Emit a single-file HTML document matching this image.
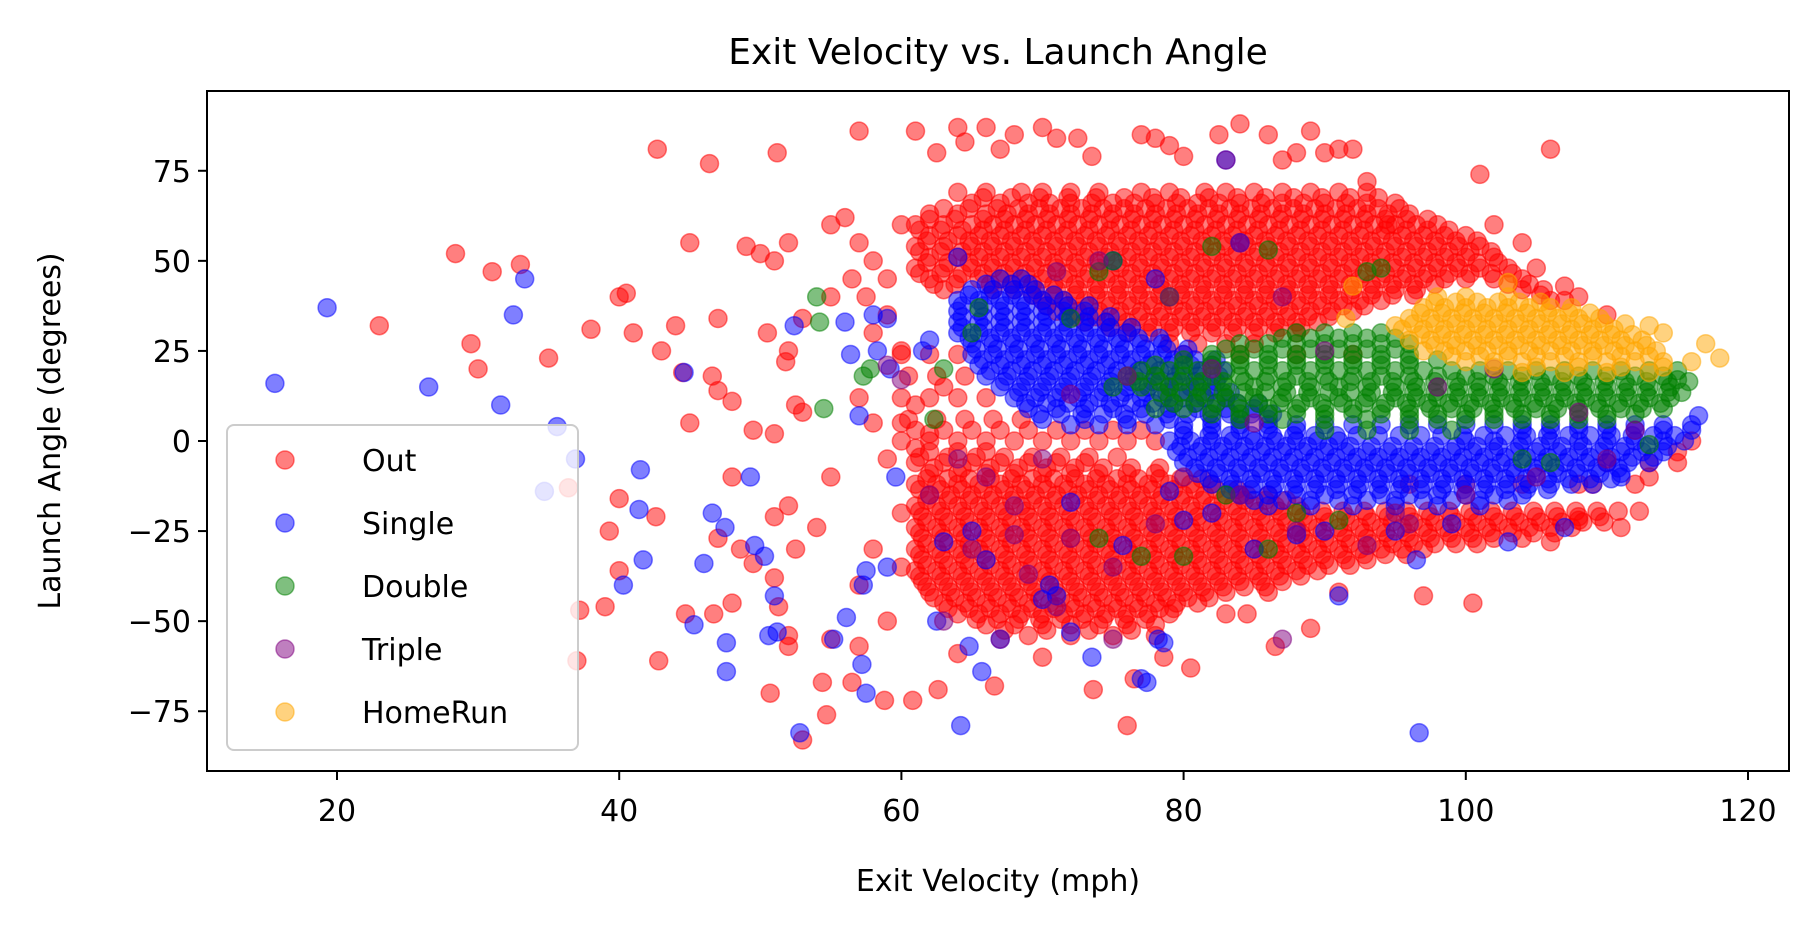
<!DOCTYPE html>
<html><head><meta charset="utf-8">
<style>
html,body{margin:0;padding:0;background:#fff;}
svg{display:block;font-family:"DejaVu Sans","Liberation Sans",sans-serif;}
</style></head>
<body>
<svg id="chart" width="1820" height="932" viewBox="0 0 1820 932" xmlns="http://www.w3.org/2000/svg">
<rect x="0" y="0" width="1820" height="932" fill="#fff"/>
<text x="998" y="64" text-anchor="middle" font-size="36" fill="#000">Exit Velocity vs. Launch Angle</text>
<g id="marks"></g>
<g id="axes"></g>
<text x="998" y="891" text-anchor="middle" font-size="30" fill="#000">Exit Velocity (mph)</text>
<text x="0" y="0" transform="translate(60,431) rotate(-90)" text-anchor="middle" font-size="30" fill="#000">Launch Angle (degrees)</text>
<g id="legend"></g>
</svg>
<script>
const categories = ["Out","Single","Double","Triple","HomeRun"];
const colors = ["#ff0000","#0000ff","#008000","#800080","#ffa500"];
const xTicks = [20,40,60,80,100,120];
const yTicks = [-75,-50,-25,0,25,50,75];

// Dense rows: [launchAngle, [exitVelocities...]]
const outRows = [
[69,[64,66,68.5,70,72,74,77,79,81.5,83,85,87,89,91,93]],
[67.5,[65.8,67.8,69.8,71.8,73.8,75.8,77.8,79.8,81.8,83.8,85.8,87.8,89.8,91.8,93.8]],
[66,[65,67,69,70.5,72,73.5,75,76.5,78,79.5,81,82.5,84,85.5,87,88.5,90,91.5,93,95]],
[64.5,[63,64.8,66.8,68.3,69.8,71.3,72.8,74.3,75.8,77.3,78.8,80.3,81.8,83.3,84.8,86.3,87.8,89.3,90.8,92.3,93.8,95.3]],
[63,[62,64,66,67.5,69,70.5,72,73.5,75,76.5,78,79.5,81,82.5,84,85.5,87,88.5,90,91.5,93,94.5,96]],
[61.5,[62,63.8,65.8,67.3,68.8,70.3,71.8,73.3,74.8,76.3,77.8,79.3,80.8,82.3,83.8,85.3,86.8,88.3,89.8,91.3,92.8,94.3,95.8,97.3]],
[60,[61,63,65,66.5,68,69.5,71,72.5,74,75.5,77,78.5,80,81.5,83,84.5,86,87.5,89,90.5,92,93.5,95,96.5,98]],
[58.5,[61.3,62.8,64.3,65.8,67.3,68.8,70.3,71.8,73.3,74.8,76.3,77.8,79.3,80.8,82.3,83.8,85.3,86.8,88.3,89.8,91.3,92.8,94.3,95.8,97.3,98.8]],
[57,[62,64,65.5,67,68.5,70,71.5,73,74.5,76,77.5,79,80.5,82,83.5,85,86.5,88,89.5,91,92.5,94,95.5,97,98.5,100]],
[55.5,[61.8,63.3,64.8,66.3,67.8,69.3,70.8,72.3,73.8,75.3,76.8,78.3,79.8,81.3,82.8,84.3,85.8,87.3,88.8,90.3,91.8,93.3,94.8,96.3,97.8,99.3,100.8]],
[54,[61,63,65,66.5,68,69.5,71,72.5,74,75.5,77,78.5,80,81.5,83,84.5,86,87.5,89,90.5,92,93.5,95,96.5,98,99.5,101]],
[52.5,[61.3,62.8,64.3,65.8,67.3,68.8,70.3,71.8,73.3,74.8,76.3,77.8,79.3,80.8,82.3,83.8,85.3,86.8,88.3,89.8,91.3,92.8,94.3,95.8,97.3,98.8,100.3,101.8]],
[51,[62,64,65.5,67,68.5,70,71.5,73,74.5,76,77.5,79,80.5,82,83.5,85,86.5,88,89.5,91,92.5,94,95.5,97,98.5,100,102]],
[49.5,[61.8,63.3,64.8,66.3,67.8,69.3,70.8,72.3,73.8,75.3,76.8,78.3,79.8,81.3,82.8,84.3,85.8,87.3,88.8,90.3,91.8,93.3,94.8,96.3,97.8,99.3,100.8,102.3]],
[48,[61,63,65,66.5,68,69.5,71,72.5,74,75.5,77,78.5,80,81.5,83,84.5,86,87.5,89,90.5,92,93.5,95,96.5,98,99.5,101,103]],
[46.5,[61.3,62.8,64.3,65.8,67.3,68.8,70.3,71.8,73.3,74.8,76.3,77.8,79.3,80.8,82.3,83.8,85.3,86.8,88.3,89.8,91.3,92.8,94.3,95.8,97.3,98.8,100.3,101.8,103.3]],
[45,[62,64,65.5,67,68.5,70,71.5,73,74.5,76,77.5,79,80.5,82,83.5,85,86.5,88,89.5,91,92.5,94,95.5,97,98.5,100,102,104]],
[43.5,[62.3,63.8,66.3,67.8,69.3,70.8,72.3,73.8,75.3,76.8,78.3,79.8,81.3,82.8,84.3,85.8,87.3,88.8,90.3,91.8,93.3,94.8,96.3,97.8,103,104.5]],
[42,[63,66.5,68,69.5,71,72.5,74,75.5,77,78.5,80,81.5,83,84.5,86,87.5,89,90.5,92,93.5,95,96.5,104,105.5]],
[40.5,[69.3,70.8,72.3,73.8,75.3,76.8,78.3,79.8,81.3,82.8,84.3,85.8,87.3,88.8,90.3,91.8,93.3,94.8,96.3,105.3]],
[39,[70,71.5,73,74.5,76,77.5,79,80.5,82,83.5,85,86.5,88,89.5,91,92.5,94,106,107]],
[37.5,[70.3,71.8,73.3,74.8,76.3,77.8,79.3,80.8,82.3,83.8,85.3,86.8,88.3,89.8,91.3,92.8]],
[36,[71,72.5,74,75.5,77,78.5,80,81.5,83,84.5,86,87.5,89,90.5,92]],
[34.5,[72.3,73.8,75.3,76.8,78.3,79.8,81.3,82.8,84.3,85.8,87.3,88.8,90.3]],
[33,[73,74.5,76,77.5,79,80.5,82,83.5,85,86.5,88,89.5]],
[31.5,[74.8,76.3,77.8,79.3,80.8,82.3,83.8,85.3,86.8,88.3]],
[30,[76,77.5,79,80.5,82,83.5,85,86.5,88]],
[27,[79,81,83,85]],
[24,[60,62,64,80,84,88,92]],
[18,[60.5,62.5,64.5]],
[12,[60,62,64,66]],
[6,[60.5,62.5,64.5,66.5,68.5]],
[3,[61,63,65,67,69,71,73,75,77]],
[0,[60,62,64,66,68,70,72,74,76,78]],
[-3,[62,64,66]],
[-4.5,[61.3,63.3,65.3,67.3,69.3,71.3,73.3,75.3]],
[-6,[61,63,65,67,69,71,73,110,113,115]],
[-7.5,[62.3,64.3,66.3,68.3,70.3,72.3,74.3,76.3,78.3]],
[-9,[62,64,66,68,70,72,74,76,78]],
[-10.5,[61.8,63.3,64.8,66.3,67.8,69.3,70.8,72.3,73.8,75.3,76.8,78.3,79.8,81.3]],
[-12,[61,62.5,64,65.5,67,68.5,70,71.5,73,74.5,76,77.5,79,80.5,82,96,100,104,108,112]],
[-13.5,[61.3,62.8,64.3,65.8,67.3,68.8,70.3,71.8,73.3,74.8,76.3,77.8,79.3,80.8,82.3,83.8]],
[-15,[62,63.5,65,66.5,68,69.5,71,72.5,74,75.5,77,78.5,80,81.5,83,84.5,86]],
[-16.5,[61.8,63.3,64.8,66.3,67.8,69.3,70.8,72.3,73.8,75.3,76.8,78.3,79.8,81.3,82.8,84.3,85.8,87.3]],
[-18,[61,62.5,64,65.5,67,68.5,70,71.5,73,74.5,76,77.5,79,80.5,82,83.5,85,86.5,88]],
[-19.5,[61.3,62.8,64.3,65.8,67.3,68.8,70.3,71.8,73.3,74.8,76.3,77.8,79.3,80.8,82.3,83.8,85.3,86.8,88.3,89.8,91.3,92.8,94.3,95.8,97.3,98.8,100.3,101.8,103.3,104.8,106.3,107.8,109.3,110.8,112.3]],
[-21,[61.5,63,64.5,66,67.5,69,70.5,72,73.5,75,76.5,78,79.5,81,82.5,84,85.5,87,88.5,90,91.5,93,94.5,96,97.5,99,100.5,102,103.5,105,106.5,108,109.5]],
[-22.5,[61.8,63.3,64.8,66.3,67.8,69.3,70.8,72.3,73.8,75.3,76.8,78.3,79.8,81.3,82.8,84.3,85.8,87.3,88.8,90.3,91.8,93.3,94.8,96.3,97.8,99.3,100.8,102.3,103.8,105.3,106.8,108.3,109.8]],
[-24,[61,62.5,64,65.5,67,68.5,70,71.5,73,74.5,76,77.5,79,80.5,82,83.5,85,86.5,88,89.5,91,92.5,94,95.5,97,98.5,100,101.5,103,104.5,106,107.5]],
[-25.5,[61.3,62.8,64.3,65.8,67.3,68.8,70.3,71.8,73.3,74.8,76.3,77.8,79.3,80.8,82.3,83.8,85.3,86.8,88.3,89.8,91.3,92.8,94.3,95.8,97.3,98.8,100.3,101.8,103.3,104.8,106.3]],
[-27,[61.5,63,64.5,66,67.5,69,70.5,72,73.5,75,76.5,78,79.5,81,82.5,84,85.5,87,88.5,90,91.5,93,94.5,96,97.5,99,100.5,102,104]],
[-28.5,[61.8,63.3,64.8,66.3,67.8,69.3,70.8,72.3,73.8,75.3,76.8,78.3,79.8,81.3,82.8,84.3,85.8,87.3,88.8,90.3,91.8,93.3,94.8,96.3,97.8,99.3,100.8]],
[-30,[61,62.5,64,65.5,67,68.5,70,71.5,73,74.5,76,77.5,79,80.5,82,83.5,85,86.5,88,89.5,91,92.5,94,95.5,97]],
[-31.5,[61.3,62.8,64.3,65.8,67.3,68.8,70.3,71.8,73.3,74.8,76.3,77.8,79.3,80.8,82.3,83.8,85.3,86.8,88.3,89.8,91.3,92.8,94.3,95.8]],
[-33,[61.5,63,64.5,66,67.5,69,70.5,72,73.5,75,76.5,78,79.5,81,82.5,84,85.5,87,88.5,90,91.5,93]],
[-34.5,[61.8,63.3,64.8,66.3,67.8,69.3,70.8,72.3,73.8,75.3,76.8,78.3,79.8,81.3,82.8,84.3,85.8,87.3,88.8,90.3,91.8]],
[-36,[61,62.5,64,65.5,67,68.5,70,71.5,73,74.5,76,77.5,79,80.5,82,83.5,85,86.5,88,89.5]],
[-37.5,[61.3,62.8,64.3,65.8,67.3,68.8,70.3,71.8,73.3,74.8,76.3,77.8,79.3,80.8,82.3,83.8,85.3,86.8,88.3]],
[-39,[61.5,63,64.5,66,67.5,69,70.5,72,73.5,75,76.5,78,79.5,81,82.5,84,85.5,87]],
[-40.5,[61.8,63.3,64.8,66.3,67.8,69.3,70.8,72.3,73.8,75.3,76.8,78.3,79.8,81.3,82.8,84.3,85.8]],
[-42,[62,63.5,65,66.5,68,69.5,71,72.5,74,75.5,77,78.5,80,81.5,83,86]],
[-43.5,[62.3,63.8,65.3,66.8,68.3,69.8,71.3,72.8,74.3,75.8,77.3,78.8,80.3,81.8]],
[-45,[63,64.5,66,67.5,69,70.5,72,73.5,75,76.5,78,79.5,81]],
[-46.5,[63.3,64.8,66.3,67.8,69.3,70.8,72.3,73.8,75.3,76.8,78.3,79.3]],
[-48,[64,65.5,67,68.5,70,71.5,73,74.5,76,77.5,79]],
[-49.5,[65.3,66.8,68.3,69.8,71.3,72.8,74.3,75.8,77.3]],
[-51,[66,68,70,72,74,76,78]],
[-52.5,[67.3,70.3,73.3,76.3]],
[-54,[69,72,75,78]]
];
const outPts = [[28.4,52],[31,47],[33,49],[23,32],[29.5,27],[30,20],[35,23],[38,31],[40,40],[40.5,41],[41,30],[43,25],[44.5,19],[45,55],[42.7,81],[46.4,77],[51.2,80],[45,5],[44,32],[47,34],[46.6,18],[47,14],[48,11],[49,54],[50,52],[51,50],[52,55],[50.5,30],[52,25],[51.8,22],[53,34],[49.5,3],[51,2],[52.5,10],[53,8],[40,-16],[39.3,-25],[40,-36],[42.6,-21],[39,-46],[42.8,-61],[37,-61],[36.4,-13],[37.2,-47],[44.7,-48],[46.7,-48],[48,-45],[47,-27],[48,-10],[48.6,-30],[49.5,-34],[51,-38],[51.3,-46],[52,-54],[50.7,-70],[52,-57],[53,-83],[54.7,-76],[54.4,-67],[56.5,-67],[55,-55],[57,-57],[54,-24],[55,-10],[52,-18],[51,-21],[52.5,-30],[58.8,-72],[60.8,-72],[62.6,-69],[64,-59],[66.6,-68],[57,86],[61,86],[62.5,80],[64,87],[64.5,83],[66,87],[67,81],[68,85],[70,87],[71,84],[72.5,84],[73.5,79],[77,85],[78,84],[79,82],[80,79],[82.5,85],[84,88],[86,85],[87,78],[88,80],[89,86],[90,80],[91,81],[92,81],[93,72],[94.5,60],[101,74],[106,81],[102,60],[104,55],[105,48],[107,43],[108,40],[110,35],[76,-79],[76.5,-66],[78.6,-60],[80.5,-63],[73.6,-69],[70,-60],[86.5,-57],[83,-48],[84.5,-48],[100.5,-45],[97,-43],[91,-42],[89,-52],[111,-24],[108,-22],[106,-28],[109,-12],[113,-10],[115,-3],[116,0],[56,62],[55,60],[57,55],[58,50],[59,45],[60,60],[56.5,45],[57.5,40],[55,40],[58,30],[59,35],[60,25],[57,12],[58,5],[59,-5],[60,-20],[58,-30],[57,-40],[59,-50],[60,-35],[61,10],[62,2],[63,15],[60,5],[61,-2]];

const singleRows = [
[45,[67,68.5]],
[43.5,[66,67.8,69]],
[42,[65,66.5,68,69.5]],
[40.5,[64.8,66.3,67.8,69.3,70.8]],
[39,[64,65.5,67,68.5,70,71.5]],
[37.5,[64.3,65.8,67.3,68.8,70.3,71.8,73.3]],
[36,[64,65.5,67,68.5,70,71.5,73]],
[34.5,[64.3,65.8,67.3,68.8,70.3,71.8,73.3,74.8]],
[33,[64,65.5,67,68.5,70,71.5,73,74.5]],
[31.5,[64.3,65.8,67.3,68.8,70.3,71.8,73.3,74.8,76.3]],
[30,[64,65.5,67,68.5,70,71.5,73,74.5,76]],
[28.5,[64.8,66.3,67.8,69.3,70.8,72.3,73.8,75.3,76.8,78.3]],
[27,[65,66.5,68,69.5,71,72.5,74,75.5,77,78.5]],
[25.5,[65.3,66.8,68.3,69.8,71.3,72.8,74.3,75.8,77.3,78.8,80.3]],
[24,[65,66.5,68,69.5,71,72.5,74,75.5,77,78.5,80]],
[22.5,[65.8,67.3,68.8,70.3,71.8,73.3,74.8,76.3,77.8,79.3,80.8,82.3]],
[21,[65.5,67,68.5,70,71.5,73,74.5,76,77.5,79,80.5,82]],
[19.5,[66.3,67.8,69.3,70.8,72.3,73.8,75.3,76.8,78.3,79.8,81.3,82.8]],
[18,[66,67.5,69,70.5,72,73.5,75,76.5,78,79.5,81,82.5]],
[16.5,[67.3,68.8,70.3,71.8,73.3,74.8,76.3,77.8,79.3,80.8,82.3]],
[15,[67,68.5,70,71.5,73,74.5,76,77.5,79,80.5,82]],
[13.5,[68.3,69.8,71.3,72.8,74.3,75.8,77.3,78.8,80.3,81.8,83.3]],
[12,[68,69.5,71,72.5,74,75.5,77,78.5,80,81.5,83]],
[10.5,[68.8,70.3,71.8,73.3,74.8,76.3,77.8,79.3,80.8,82.3,83.8,85.3]],
[9,[69,71,73,75,77,79,81,83,85]],
[7.5,[69.8,71.3,72.8,74.3,75.8,77.3,78.8,80.3,81.8,83.3,84.8,86.3]],
[6,[70,73,76,79,82,84,86]],
[4.5,[72,74,76,78,80,82,84,86,88,90,92,94,96,98,100,102,104,106,108,110,112,114,116]],
[3,[80,82,84,86,88,104,106,108,110,112,114,116]],
[1.5,[80,81.8,83.3,84.8,86.3,87.8,89.3,90.8,92.3,93.8,95.3,96.8,98.3,99.8,101.3,102.8,104.3,105.8,107.3,108.8,110.3,111.8,113.3,114.8]],
[0,[79,80.5,82,83.5,85,86.5,88,89.5,91,100,102,104,106,108,110,112,114,115.5]],
[-1.5,[79.8,81.3,82.8,84.3,85.8,87.3,88.8,90.3,91.8,93.3,94.8,96.3,97.8,99.3,100.8,102.3,103.8,105.3,106.8,108.3,109.8,111.3,112.8,114.3]],
[-3,[79.5,81,82.5,84,85.5,87,88.5,90,91.5,93,94.5,96,97.5,99,100.5,102,103.5,105,106.5,108,109.5,111,112.5,114]],
[-4.5,[80.3,81.8,83.3,84.8,86.3,87.8,89.3,90.8,92.3,93.8,95.3,96.8,98.3,99.8,101.3,102.8,104.3,105.8,107.3,108.8,110.3,111.8,113.3]],
[-6,[80,81.5,83,84.5,86,87.5,89,90.5,92,93.5,95,96.5,98,99.5,101,102.5,104,105.5,107,108.5,110,111.5,113]],
[-7.5,[80.8,82.3,83.8,85.3,86.8,88.3,89.8,91.3,92.8,94.3,95.8,97.3,98.8,100.3,101.8,103.3,104.8,106.3,107.8,109.3,110.8]],
[-9,[81,82.5,84,85.5,87,88.5,90,91.5,93,94.5,96,97.5,99,100.5,102,103.5,105,106.5,108,109.5,111]],
[-10.5,[81.8,83.3,84.8,86.3,87.8,89.3,90.8,92.3,93.8,95.3,96.8,98.3,99.8,101.3,102.8,104.3,105.8,107.3,108.8,110.3]],
[-12,[82,83.5,85,86.5,88,89.5,91,92.5,94,95.5,97,98.5,100,101.5,103,104.5,106,107.5,109]],
[-13.5,[83.3,84.8,86.3,87.8,89.3,90.8,92.3,93.8,95.3,96.8,98.3,99.8,101.3,102.8,104.3,105.8]],
[-15,[84,86,88,90,92,94,96,98,100,102,104]],
[-16.5,[85,87,89,91,93,95,97,99,101,103]],
[-18,[86,89,92,95,98,101]]
];
const singlePts = [[15.6,16],[19.3,37],[26.5,15],[31.6,10],[32.5,35],[33.3,45],[35.6,4],[36.9,-5],[34.7,-14],[41.5,-8],[41.4,-19],[41.7,-33],[40.3,-40],[44.6,19],[46.6,-20],[47.5,-24],[46,-34],[45.3,-51],[47.6,-56],[47.6,-64],[49.3,-10],[49.6,-29],[50.3,-32],[51,-43],[50.6,-54],[51.2,-53],[52.4,32],[52.8,-81],[55.2,-55],[56.1,-49],[57.2,-62],[57.5,-70],[56.4,24],[56,33],[57,7],[57.5,-36],[57.3,-40],[59,-35],[58,35],[59,34],[58.3,25],[59.2,20],[59.6,-10],[61.5,25],[62,28],[62.5,-50],[63,-28],[64.2,-79],[64.8,-57],[65.7,-64],[67,-55],[65,-25],[66,-33],[70,-44],[70.5,-40],[71,-43],[72,-17],[72,-53],[73.5,-60],[75.7,-29],[77,-66],[77.4,-67],[78.6,-56],[78.2,-55],[79,-14],[80,-22],[82,-20],[83,78],[84,55],[91,-43],[96.7,-81],[96.5,-33],[103,-28],[107,-24],[111,-10],[116.5,7],[64,51],[75,50],[78,45],[85,-30],[88,-26],[90,-25],[95,-25],[99,-23]];

const doubleRows = [
[30,[88,90,92,94]],
[28.5,[87,89,91,93,95]],
[27,[84,86,88,90,92,94,96]],
[25.5,[83,85,87,89,91,93,95]],
[24,[82,84,86,88,90,92,94,96]],
[22.5,[80,82,84,86,88,90,92,94,96,98]],
[21,[78,80,82,84,86,88,90,92,94,96]],
[19.5,[77,79,81,83,85,87,89,91,93,95,97,99,101,103,105,107,109,111,113,115]],
[18,[76,78,80,82,84,86,88,90,92,94,96,98,100,102,104,106,108,110,112,114]],
[16.5,[76.8,78.3,79.8,81.3,82.8,84.3,85.8,87.3,88.8,90.3,91.8,93.3,94.8,96.3,97.8,99.3,100.8,102.3,103.8,105.3,106.8,108.3,109.8,111.3,112.8,114.3,115.8]],
[15,[77,79,81,83,85,87,89,91,93,95,96.5,98,99.5,101,102.5,104,105.5,107,108.5,110,111.5,113,114.5]],
[13.5,[78.3,79.8,81.3,82.8,84.3,85.8,87.3,88.8,90.3,91.8,93.3,94.8,96.3,97.8,99.3,100.8,102.3,103.8,105.3,106.8,108.3,109.8,111.3,112.8,114.3,115.3]],
[12,[79,81,83,85,87,89,91,93,95,96.5,98,99.5,101,102.5,104,105.5,107,108.5,110,111.5,113,114.5]],
[10.5,[79.3,80.8,82.3,83.8,85.3,86.8,88.3,89.8,91.3,92.8,94.3,95.8,97.3,98.8,100.3,101.8,103.3,104.8,106.3,107.8,109.3,110.8,112.3,113.8]],
[9,[80,82,84,86,88,90,92,94,96,97.5,99,100.5,102,103.5,105,106.5,108,109.5,111,112.5,114]],
[7.5,[82,84,86,88,90,92,94,96,98,100,102,104,106,108,110,112]],
[6,[84,87,90,93,96,98,100,102,104,106,108,110]],
[3,[90,93,96,99]]
];
const doublePts = [[54,40],[54.2,33],[54.5,9],[57.3,18],[57.8,20],[62.3,6],[63,20],[65,30],[65.5,37],[72,34],[74,47],[75,50],[79,40],[82,54],[86,53],[93,47],[94,48],[74,-27],[77,-32],[80,-32],[83,-15],[86,-30],[88,-20],[75,15],[78,9],[91,-22],[104,-5],[106,-6],[113,-1],[115,17]];

const triplePts = [[83,78],[84,55],[74,50],[71,47],[79,40],[87,40],[76,18],[80,-10],[72,-27],[75,-35],[68,-18],[66,-10],[70,-5],[69,-37],[71,-46],[67,-55],[63,-50],[62,-15],[64,-5],[60,17],[59,21],[84,-15],[88,-25],[95,-20],[100,-15],[105,-10],[110,-5],[108,8],[112,3],[85,5],[90,25],[98,15],[102,20],[96,-23],[93,-29],[78,-23],[75,-55],[68,-26],[65,-30],[87,-55],[82,20],[72,13]];

const homeRunRows = [
[40,[98,100,103]],
[38.5,[97.8,99.3,100.8,102.3,103.8,105.3]],
[37,[97,98.5,100,101.5,103,104.5,106,107.5]],
[35.5,[96.8,98.3,99.8,101.3,102.8,104.3,105.8,107.3,108.8]],
[34,[96,97.5,99,100.5,102,103.5,105,106.5,108,109.5]],
[32.5,[96.3,97.8,99.3,100.8,102.3,103.8,105.3,106.8,108.3,109.8,111.3]],
[31,[95.5,97,98.5,100,101.5,103,104.5,106,107.5,109,110.5]],
[29.5,[96.8,98.3,99.8,101.3,102.8,104.3,105.8,107.3,108.8,110.3,111.8]],
[28,[96,97.5,99,100.5,102,103.5,105,106.5,108,109.5,111,112.5]],
[26.5,[97.8,99.3,100.8,102.3,103.8,105.3,106.8,108.3,109.8,111.3,112.8]],
[25,[97,98.5,100,101.5,103,104.5,106,107.5,109,110.5,112,113.5]],
[23.5,[99,101,103,105,107,109,111,113]],
[22,[100,102,104,106,108,110,112,114]],
[20.5,[102,105,108,111,114]],
[19,[104,107,110,113]]
];
const homeRunPts = [[92,43],[103,44],[117,27],[118,23],[116,22],[114,30],[113,32],[95,32],[91.5,34]];

// axes geometry
const L=207,R=1789,T=91,B=771;
function xs(v){return 337+(v-20)*14.11;}
function ys(v){return 441-v*3.603;}
const NS="http://www.w3.org/2000/svg";
function mk(tag,attrs,parent){const e=document.createElementNS(NS,tag);for(const k in attrs)e.setAttribute(k,attrs[k]);parent.appendChild(e);return e;}

const marks=document.getElementById('marks');
const series=[[outRows,outPts],[singleRows,singlePts],[doubleRows,doublePts],[[],triplePts],[homeRunRows,homeRunPts]];
series.forEach((s,i)=>{
  const g=mk('g',{},marks);
  
  
  const pts=[];
  s[0].forEach(r=>r[1].forEach(x=>pts.push([x,r[0]])));
  s[1].forEach(p=>pts.push(p));
  pts.forEach(p=>{
    const c=mk('circle',{cx:xs(p[0]).toFixed(1),cy:ys(p[1]).toFixed(1),r:9,fill:colors[i],'fill-opacity':0.5,stroke:colors[i],'stroke-opacity':0.5,'stroke-width':1.5},g);
    
    
  });
});

const axes=document.getElementById('axes');
const frame=mk('rect',{x:L,y:T,width:R-L,height:B-T,fill:'none',stroke:'#000','stroke-width':2},axes);


xTicks.forEach(t=>{
  const x=xs(t);
  const ln=mk('line',{x1:x,x2:x,y1:B,y2:B+9,stroke:'#000','stroke-width':2},axes);
  
  
  const tx=mk('text',{x:x,y:B+50,'text-anchor':'middle','font-size':30,fill:'#000'},axes);
  tx.textContent=String(t);
  
  
});
yTicks.forEach(t=>{
  const y=ys(t);
  const ln=mk('line',{x1:L-9,x2:L,y1:y,y2:y,stroke:'#000','stroke-width':2},axes);
  
  
  const tx=mk('text',{x:L-16,y:y+11,'text-anchor':'end','font-size':30,fill:'#000'},axes);
  tx.textContent=(t<0?'\u2212'+Math.abs(t):String(t));
  
  
});

const leg=document.getElementById('legend');
const box=mk('rect',{x:227,y:425,width:351,height:325,rx:7,fill:'#fff','fill-opacity':0.8,stroke:'#cccccc','stroke-width':2},leg);


categories.forEach((c,i)=>{
  const y=460+i*63;
  const g=mk('g',{},leg);
  
  
  mk('circle',{cx:285,cy:y,r:9,fill:colors[i],'fill-opacity':0.5,stroke:colors[i],'stroke-opacity':0.5,'stroke-width':1.5},g);
  const t=mk('text',{x:362,y:y+11,'font-size':30,fill:'#000'},g);
  t.textContent=c;
});
</script>
</body></html>
